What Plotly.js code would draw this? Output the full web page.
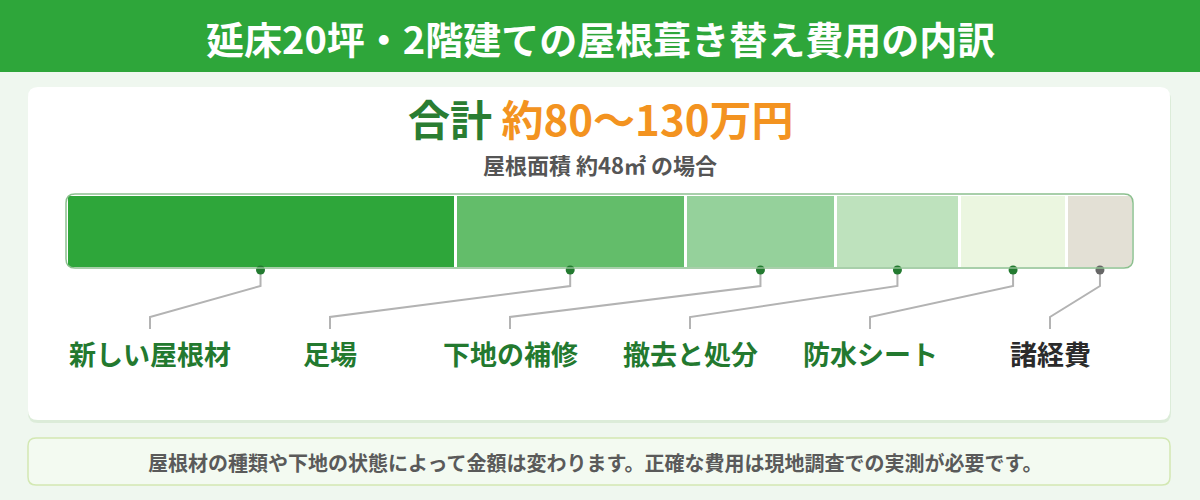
<!DOCTYPE html>
<html>
<head>
<meta charset="utf-8">
<script src="https://cdn.plot.ly/plotly-3.0.1.min.js"></script>
<style>
  html, body { margin: 0; padding: 0; background: #eff7ef; }
  #chart { width: 1200px; height: 500px; }
</style>
</head>
<body>
<div id="chart"></div>
<script>
// ---- data ----
const categories = ['新しい屋根材', '足場', '下地の補修', '撤去と処分', '防水シート', '諸経費'];
const shares = [36.5, 21.6, 14.1, 11.6, 10.1, 6.2];
const titleText = '延床20坪・2階建ての屋根葺き替え費用の内訳';
const totalLabel = '合計';
const totalRange = '約80〜130万円';
const subText = '屋根面積 約48㎡ の場合';
const noteText = '屋根材の種類や下地の状態によって金額は変わります。正確な費用は現地調査での実測が必要です。';

// ---- styles ----
const segColors = ['#2ea63a', '#63bd6a', '#95d19b', '#bee2bd', '#ebf6e0', '#e3e0d5'];
const dotColors = ['#237a30', '#237a30', '#237a30', '#237a30', '#237a30', '#666666'];
const labelColors = ['#23792f', '#23792f', '#23792f', '#23792f', '#23792f', '#2b2b2b'];
const FONT = '"Noto Sans CJK JP", "Noto Sans", sans-serif';

// layout geometry (pixels)
const W = 1200, H = 500;
const barLeft = 66, barRight = 1133, barTop = 194, barBottom = 268;
const total = shares.reduce((a, b) => a + b, 0);
const k = total / (barRight - barLeft);          // data units per pixel
const xRange = [-barLeft * k, total + (W - barRight) * k];
const toData = px => (px - barLeft) * k;
const labelPx = categories.map((_, i) => 150 + 180 * i);

function roundRect(x0, y0, x1, y1, r) {
  return `M${x0 + r},${y0} L${x1 - r},${y0} Q${x1},${y0} ${x1},${y0 + r} ` +
         `L${x1},${y1 - r} Q${x1},${y1} ${x1 - r},${y1} L${x0 + r},${y1} ` +
         `Q${x0},${y1} ${x0},${y1 - r} L${x0},${y0 + r} Q${x0},${y0} ${x0 + r},${y0} Z`;
}

const traces = [];
// stacked bar segments
categories.forEach((c, i) => {
  traces.push({
    type: 'bar', orientation: 'h', name: c,
    x: [shares[i]], y: [(barTop + barBottom) / 2], width: [barBottom - barTop],
    marker: { color: segColors[i], line: { color: '#ffffff', width: 3 } },
    hoverinfo: 'skip', showlegend: false, xaxis: 'x', yaxis: 'y'
  });
});

// leader lines and dots
let cum = 0;
const mids = [];
shares.forEach(v => { mids.push(cum + v / 2); cum += v; });
categories.forEach((c, i) => {
  const lx = toData(labelPx[i]);
  traces.push({
    type: 'scatter', mode: 'lines',
    x: [mids[i], mids[i], lx, lx], y: [270, 286, 317, 329],
    line: { color: '#b3b3b3', width: 2 },
    hoverinfo: 'skip', showlegend: false, xaxis: 'x', yaxis: 'y'
  });
});
traces.push({
  type: 'scatter', mode: 'markers',
  x: mids, y: mids.map(() => 270),
  marker: { color: dotColors, size: 9 },
  hoverinfo: 'skip', showlegend: false, xaxis: 'x', yaxis: 'y'
});
// dummy trace to activate pixel axis x2
traces.push({
  type: 'scatter', mode: 'markers', x: [0], y: [0],
  marker: { opacity: 0 }, hoverinfo: 'skip', showlegend: false, xaxis: 'x2', yaxis: 'y'
});

const r = 9;
const shapes = [
  // banner
  { type: 'rect', xref: 'x2', yref: 'y', x0: 0, x1: W, y0: 0, y1: 72, fillcolor: '#2ea63a', line: { width: 0 }, layer: 'below' },
  // card shadow
  { type: 'path', xref: 'x2', yref: 'y', path: roundRect(28, 90, 1171, 423, 10), fillcolor: '#dcecd9', line: { width: 0 }, layer: 'below' },
  // card
  { type: 'path', xref: 'x2', yref: 'y', path: roundRect(28, 87, 1170, 420, 10), fillcolor: '#ffffff', line: { width: 0 }, layer: 'below' },
  // footer box
  { type: 'path', xref: 'x2', yref: 'y', path: roundRect(28, 438, 1170, 485, 8), fillcolor: '#f3faf1', line: { color: '#d3e8b3', width: 1.5 }, layer: 'below' },
  // corner masks of bar
  { type: 'path', xref: 'x2', yref: 'y', path: `M${barLeft},${barTop} L${barLeft + r},${barTop} Q${barLeft},${barTop} ${barLeft},${barTop + r} Z`, fillcolor: '#ffffff', line: { width: 0 }, layer: 'above' },
  { type: 'path', xref: 'x2', yref: 'y', path: `M${barLeft},${barBottom} L${barLeft + r},${barBottom} Q${barLeft},${barBottom} ${barLeft},${barBottom - r} Z`, fillcolor: '#ffffff', line: { width: 0 }, layer: 'above' },
  { type: 'path', xref: 'x2', yref: 'y', path: `M${barRight},${barTop} L${barRight - r},${barTop} Q${barRight},${barTop} ${barRight},${barTop + r} Z`, fillcolor: '#ffffff', line: { width: 0 }, layer: 'above' },
  { type: 'path', xref: 'x2', yref: 'y', path: `M${barRight},${barBottom} L${barRight - r},${barBottom} Q${barRight},${barBottom} ${barRight},${barBottom - r} Z`, fillcolor: '#ffffff', line: { width: 0 }, layer: 'above' },
  // bar outline
  { type: 'path', xref: 'x2', yref: 'y', path: roundRect(barLeft, barTop, barRight, barBottom, r), fillcolor: 'rgba(0,0,0,0)', line: { color: '#8cc08f', width: 1.5 }, layer: 'above' }
];

const annotations = [
  { text: '<b>' + titleText + '</b>', x: 600, y: 37, font: { size: 38, color: '#ffffff', family: FONT } },
  { text: '<b>' + totalLabel + ' <span style="color:#f39320">' + totalRange + '</span></b>', x: 600, y: 117, font: { size: 42, color: '#2a7d32', family: FONT } },
  { text: '<b>' + subText + '</b>', x: 600, y: 164, font: { size: 22, color: '#555555', family: FONT } },
  { text: '<b>' + noteText + '</b>', x: 595, y: 462, font: { size: 20, color: '#5a5a5a', family: FONT } }
];
categories.forEach((c, i) => {
  annotations.push({ text: '<b>' + c + '</b>', x: labelPx[i], y: 353, font: { size: 27, color: labelColors[i], family: FONT } });
});
annotations.forEach(a => { a.xref = 'x2'; a.yref = 'y'; a.showarrow = false; a.xanchor = 'center'; a.yanchor = 'middle'; });

const layout = {
  width: W, height: H,
  margin: { l: 0, r: 0, t: 0, b: 0, pad: 0 },
  paper_bgcolor: '#eff7ef', plot_bgcolor: 'rgba(0,0,0,0)',
  barmode: 'stack', bargap: 0,
  xaxis: { range: xRange, visible: false, fixedrange: true },
  xaxis2: { range: [0, W], overlaying: 'x', visible: false, fixedrange: true },
  yaxis: { range: [H, 0], visible: false, fixedrange: true },
  shapes: shapes, annotations: annotations,
  showlegend: false, hovermode: false,
  font: { family: FONT }
};

Plotly.newPlot('chart', traces, layout, { displayModeBar: false, staticPlot: true });
</script>
</body>
</html>
